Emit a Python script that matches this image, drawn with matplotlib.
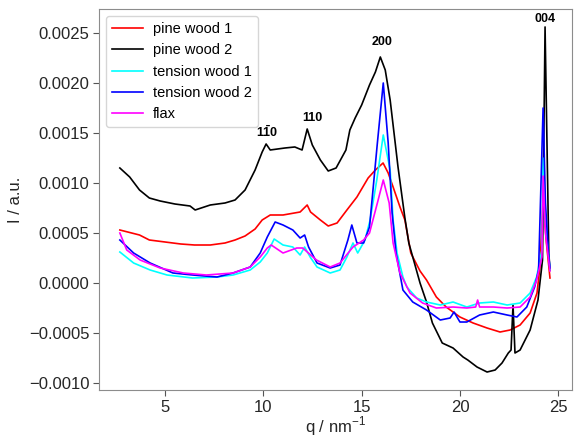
import matplotlib
matplotlib.use("Agg")
import matplotlib.pyplot as plt
from matplotlib.ticker import FuncFormatter

plt.rcParams["font.family"] = ["Liberation Sans", "DejaVu Sans"]
plt.rcParams["mathtext.fontset"] = "custom"
plt.rcParams["mathtext.rm"] = "Liberation Sans"
plt.rcParams["mathtext.bf"] = "Liberation Sans:bold"

# scattering curves, q in nm^-1, intensity in a.u.
q_pine1 = [2.7, 2.9, 3.7, 4.2, 5.0, 5.8, 6.5, 7.3, 8.05, 8.56, 9.07, 9.58, 9.94, 10.35, 11.0,
           11.87, 12.23, 12.4, 12.9, 13.3, 13.75, 14.25, 14.76, 15.33, 15.7, 16.09, 16.35, 16.6,
           16.95, 17.2, 17.5, 17.97, 18.3, 18.8, 19.3, 20.0, 20.67, 21.38, 22.04, 22.55, 23.06,
           23.57, 23.92, 24.07, 24.23, 24.4, 24.58]
I_pine1 = [0.00053, 0.00052, 0.00048, 0.00043, 0.00041, 0.00039, 0.00038, 0.00038, 0.00040,
           0.00043, 0.00047, 0.00054, 0.00063, 0.00068, 0.00068, 0.00071, 0.00078, 0.00071,
           0.00063, 0.00057, 0.00060, 0.00073, 0.00086, 0.00105, 0.00113, 0.00120, 0.00110,
           0.00096, 0.00076, 0.00063, 0.00030, 0.00012, 0.00003, -0.00014, -0.00024, -0.00034,
           -0.00040, -0.00045, -0.00049, -0.00047, -0.00042, -0.00030, -0.00010, 0.00016,
           0.00085, 0.00040, 0.00005]

q_pine2 = [2.7, 3.2, 3.7, 4.2, 4.75, 5.5, 6.27, 6.53, 7.3, 8.05, 8.56, 9.07, 9.58, 9.94, 10.14,
           10.35, 11.1, 11.6, 11.97, 12.23, 12.49, 12.9, 13.3, 13.7, 14.2, 14.4, 14.67, 15.0, 15.4,
           15.7, 15.95, 16.2, 16.45, 16.85, 17.2, 17.4, 17.97, 18.3, 18.6, 19.1, 19.65, 20.16,
           20.4, 20.87, 21.38, 21.79, 22.14, 22.46, 22.6, 22.7, 22.8, 23.06, 23.57, 23.97, 24.2,
           24.33, 24.52, 24.58]
I_pine2 = [0.00115, 0.00106, 0.00093, 0.00085, 0.00082, 0.00079, 0.00077, 0.00073, 0.00078,
           0.00080, 0.00083, 0.00093, 0.00113, 0.00131, 0.00139, 0.00133, 0.00135, 0.00136,
           0.00133, 0.00154, 0.00138, 0.00123, 0.00112, 0.00115, 0.00133, 0.00153, 0.00165,
           0.00178, 0.00198, 0.00211, 0.00226, 0.00213, 0.00183, 0.00116, 0.00065, 0.00040,
           0.0, -0.00019, -0.00040, -0.00060, -0.00065, -0.00074, -0.00077, -0.00084, -0.00089,
           -0.00087, -0.00080, -0.00070, -0.00067, -0.00022, -0.00070, -0.00067, -0.00047,
           -0.00017, 0.00023, 0.00256, 0.00030, 0.00013]

q_tw1 = [2.7, 3.4, 4.24, 5.1, 6.4, 7.64, 8.46, 9.33, 9.84, 10.2, 10.55, 11.0, 11.5, 11.87, 12.1,
         12.38, 12.73, 13.4, 13.9, 14.25, 14.56, 14.8, 15.17, 15.43, 15.77, 16.1, 16.45, 16.6,
         16.8, 17.1, 17.3, 17.8, 18.3, 19.0, 19.65, 20.35, 21.0, 21.7, 22.4, 23.06, 23.57, 23.9,
         24.17, 24.23, 24.35, 24.5, 24.58]
I_tw1 = [0.00031, 0.00020, 0.00013, 0.00008, 0.00005, 0.00006, 0.00008, 0.00013, 0.00021,
         0.00030, 0.00044, 0.00038, 0.00036, 0.00028, 0.00036, 0.00026, 0.00016, 0.00010,
         0.00013, 0.00026, 0.00040, 0.00030, 0.00043, 0.00063, 0.00103, 0.00148, 0.00113,
         0.00063, 0.00030, 0.00006, -0.00004, -0.00015, -0.00019, -0.00022, -0.00019,
         -0.00024, -0.00020, -0.00019, -0.00022, -0.00020, -0.00010, 0.00006, 0.00033,
         0.00125, 0.00060, 0.00030, 0.00013]

q_tw2 = [2.7, 3.4, 4.24, 5.4, 6.4, 7.64, 8.46, 9.33, 9.84, 10.2, 10.6, 11.0, 11.5, 11.87, 12.1,
         12.3, 12.73, 13.4, 13.9, 14.3, 14.5, 14.76, 15.1, 15.4, 15.8, 16.1, 16.35, 16.55, 16.75,
         17.1, 17.6, 18.3, 19.0, 19.5, 19.7, 20.0, 20.35, 21.0, 21.7, 22.4, 22.9, 23.4, 23.8,
         24.0, 24.23, 24.35, 24.5, 24.58]
I_tw2 = [0.00043, 0.00030, 0.00020, 0.00010, 0.00008, 0.00006, 0.00010, 0.00016, 0.00030,
         0.00046, 0.00061, 0.00058, 0.00053, 0.00045, 0.00048, 0.00036, 0.00020, 0.00015,
         0.00018, 0.00043, 0.00058, 0.00040, 0.00040, 0.00056, 0.00140, 0.00200, 0.00140,
         0.00070, 0.00030, -0.00007, -0.00019, -0.00027, -0.00037, -0.00035, -0.00029,
         -0.00039, -0.00039, -0.00032, -0.00029, -0.00032, -0.00034, -0.00024, -0.00004,
         0.00013, 0.00175, 0.00080, 0.00030, 0.00015]

q_flax = [2.7, 3.05, 3.73, 4.75, 5.93, 7.1, 8.46, 9.33, 9.84, 10.2, 10.4, 11.0, 11.7, 12.0, 12.7,
          13.4, 13.9, 14.56, 15.1, 15.4, 15.8, 16.1, 16.4, 16.6, 16.95, 17.46, 18.1, 18.8, 19.65,
          20.35, 20.8, 20.9, 21.0, 21.7, 22.4, 23.06, 23.57, 23.9, 24.17, 24.23, 24.35, 24.5,
          24.58]
I_flax = [0.00050, 0.00033, 0.00023, 0.00015, 0.00010, 0.00008, 0.00010, 0.00016, 0.00026,
          0.00035, 0.00038, 0.00030, 0.00035, 0.00035, 0.00023, 0.00016, 0.00020, 0.00036,
          0.00043, 0.00050, 0.00080, 0.00103, 0.00080, 0.00040, 0.00010, -0.00010, -0.00020,
          -0.00025, -0.00024, -0.00025, -0.00024, -0.00017, -0.00024, -0.00024, -0.00025,
          -0.00024, -0.00014, 0.00003, 0.00026, 0.00107, 0.00050, 0.00025, 0.00012]

# reflection labels
peak_labels = [r"1$\mathbf{\bar{1}}$0", "110", "200", "004"]
peak_q = [10.19, 12.48, 16.04, 24.33]
peak_I = [0.00151, 0.00165, 0.00241, 0.00264]

fig = plt.figure(figsize=(5.74, 4.40), dpi=100)
ax = fig.add_axes([0.1725, 0.1136, 0.824, 0.866])

ax.plot(q_pine1, I_pine1, color="red", lw=1.2, label="pine wood 1")
ax.plot(q_pine2, I_pine2, color="black", lw=1.2, label="pine wood 2")
ax.plot(q_tw1, I_tw1, color="cyan", lw=1.2, label="tension wood 1")
ax.plot(q_tw2, I_tw2, color="blue", lw=1.2, label="tension wood 2")
ax.plot(q_flax, I_flax, color="magenta", lw=1.2, label="flax")

for lab, x, y in zip(peak_labels, peak_q, peak_I):
    ax.text(x, y, lab, ha="center", va="center", fontsize=9, fontweight="bold")

ax.set_xlim(1.64, 25.7)
ax.set_ylim(-0.00107, 0.00274)
ax.set_xticks([5, 10, 15, 20, 25])
ax.set_yticks([-0.0010, -0.0005, 0.0, 0.0005, 0.0010, 0.0015, 0.0020, 0.0025])
ax.yaxis.set_major_formatter(FuncFormatter(lambda v, p: f"{v:.4f}".replace("-", "\u2212")))

for s in ax.spines.values():
    s.set_color("#8c8c8c")
ax.tick_params(colors="#555555", labelcolor="#262626", labelsize=12, length=4, pad=3)

ax.set_xlabel(r"q / nm$^{-1}$", fontsize=12, color="#262626", labelpad=0)
ax.set_ylabel("I / a.u.", fontsize=12, color="#262626")

ax.legend(loc="upper left", fontsize=10.5, handlelength=2.1, handletextpad=0.7,
          labelspacing=0.5)

fig.savefig("out.png", dpi=100)
